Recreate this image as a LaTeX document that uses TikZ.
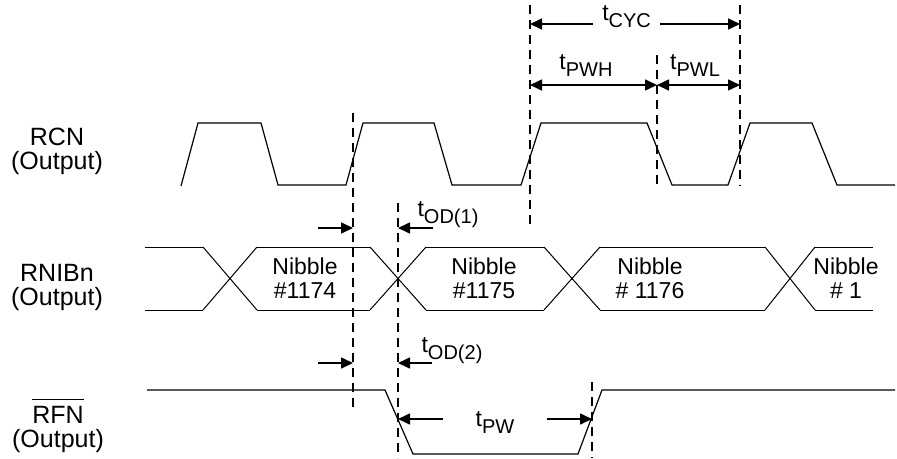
\documentclass[tikz,border=0pt]{standalone}
\usepackage{fontspec}
\setmainfont{Liberation Sans}
\usetikzlibrary{arrows.meta}

\newcommand{\tsig}[1]{t\raisebox{-7pt}{\fontsize{20}{20}\selectfont #1}}
\newcommand{\barsig}[1]{\vbox{\hrule height 1.3pt \kern 5.5pt \hbox{#1}}}

\begin{document}
\begin{tikzpicture}[x=1pt, y=-1pt,
    wave/.style={line width=1.2pt},
    bus/.style={line width=1pt},
    guide/.style={line width=2pt, dash pattern=on 9pt off 6pt},
    dim/.style={line width=1.6pt, -{Triangle[length=12pt,width=11pt]}},
    dimboth/.style={line width=1.6pt, {Triangle[length=12pt,width=11pt]}-{Triangle[length=12pt,width=11pt]}},
    txt/.style={font=\fontsize{23}{24}\selectfont, align=center, inner sep=0pt},
    sig/.style={font=\fontsize{25}{24.5}\selectfont, align=center, inner sep=0pt},
    tlab/.style={font=\fontsize{23}{24}\selectfont, inner sep=2pt}]

  \useasboundingbox (0,0) rectangle (897,458);

  % signal names
  \node[sig] (rcn)  at (57,151.5) {RCN\\(Output)};
  \node[sig] (rnib) at (57,287.5) {RNIBn\\(Output)};
  \node[sig] (rfn)  at (58,426)   {\barsig{RFN}\\(Output)};

  % RCN
  \draw[wave] (181,186) -- (198,123) -- (261,123) -- (278,185) -- (346,185)
    -- (363,123) -- (434,123) -- (452,185) -- (521,185) -- (541,123)
    -- (647,123) -- (672,185) -- (728,185) -- (750,123) -- (812,123)
    -- (837,185) -- (895,185);

  % RNIBn
  \foreach \c/\w in {230/27, 398/28, 572/28, 790/25} {
    \draw[bus] (\c-\w,247) -- (\c+\w,310);
    \draw[bus] (\c-\w,310) -- (\c+\w,247);
  }
  \foreach \a/\b in {145/203, 257/370, 426/544, 600/765, 815/873} {
    \draw[bus] (\a,247) -- (\b,247);
    \draw[bus] (\a,310) -- (\b,310);
  }

  \node[txt] (n1174) at (305,278) {Nibble\\\#1174};
  \node[txt] (n1175) at (484,278) {Nibble\\\#1175};
  \node[txt] (n1176) at (650,278) {Nibble\\\# 1176};
  \node[txt] (n1)    at (846,278) {Nibble\\\# 1};

  % RFN
  \draw[wave] (147,390) -- (385,390) -- (413,454) -- (578,454) -- (602,390) -- (895,390);

  % dashed guides
  \foreach \x/\ya/\yb in {353/113/408, 398/203/458, 530/5/228, 657/55/185, 740/5/186, 592/382/458}
    \draw[guide] (\x,\ya) -- (\x,\yb);

  % tCYC, tPWH, tPWL
  \coordinate (cycA) at (530,24);
  \coordinate (cycB) at (740,24);
  \draw[dimboth] (cycA) -- node[tlab, pos=0.46, fill=white, inner xsep=9pt, yshift=7pt] (tcyc) {\tsig{CYC}} (cycB);

  \coordinate (pwhA) at (530,85);
  \coordinate (pwM)  at (657,85);
  \coordinate (pwlB) at (740,85);
  \draw[dimboth] (pwhA) -- (pwM);
  \draw[dimboth] (pwM) -- (pwlB);
  \node[tlab] (tpwh) at (586,66) {\tsig{PWH}};
  \node[tlab] (tpwl) at (695,66) {\tsig{PWL}};

  % tOD(1)
  \coordinate (od1L) at (318,228);
  \coordinate (od1a) at (353,228);
  \coordinate (od1R) at (433,228);
  \coordinate (od1b) at (398,228);
  \draw[dim] (od1L) -- (od1a);
  \draw[dim] (od1R) -- (od1b);
  \node[tlab] (tod1) at (448,215) {\tsig{OD(1)}};

  % tOD(2)
  \coordinate (od2L) at (318,363);
  \coordinate (od2a) at (353,363);
  \coordinate (od2R) at (432,363);
  \coordinate (od2b) at (398,363);
  \draw[dim] (od2L) -- (od2a);
  \draw[dim] (od2R) -- (od2b);
  \node[tlab] (tod2) at (452,351) {\tsig{OD(2)}};

  % tPW
  \coordinate (pwA) at (398,419);
  \coordinate (pwB) at (592,419);
  \draw[dimboth] (pwA) -- node[tlab, fill=white, inner xsep=33pt, yshift=-4pt] (tpw) {\tsig{PW}} (pwB);

\end{tikzpicture}
\end{document}
